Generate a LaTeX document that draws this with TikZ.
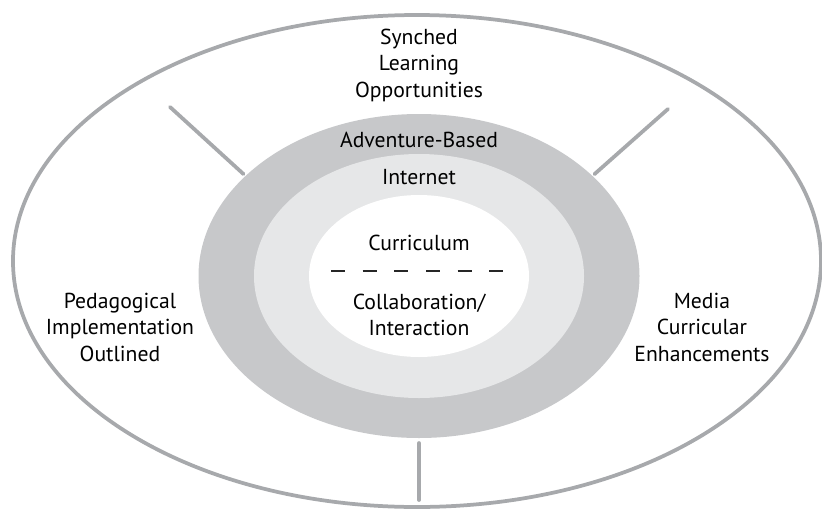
\documentclass[tikz,border=0pt]{standalone}
\usepackage{fontspec}
\setmainfont{PT Sans}
\usepackage{tikz}
\usetikzlibrary{shapes.geometric}
\usetikzlibrary{arrows}

\definecolor{rimgray}{RGB}{167,169,172}
\definecolor{darkring}{RGB}{199,200,202}
\definecolor{lightring}{RGB}{230,231,232}

\begin{document}
\begin{tikzpicture}[-,semithick,node distance=1cm]
\tikzstyle{every ring}=[ellipse,inner sep=0pt,draw=none]
\tikzstyle{lbl}=[align=center,inner sep=0pt,text=black]
\tikzstyle{spoke}=[draw=rimgray,line width=3.2pt,line cap=round]
\tikzset{font=\fontsize{18.5pt}{22.6pt}\selectfont}

        \useasboundingbox (0,0) rectangle (24.66,-15.27);

        \node[every ring,draw=rimgray,line width=3.2pt,minimum width=24.24cm,minimum height=14.76cm]   (out) at (12.51,-7.83) {};
        \node[every ring,fill=darkring,minimum width=13.23cm,minimum height=9.72cm]    (adv) at (12.57,-8.28) {};
        \node[every ring,fill=lightring,minimum width=9.9cm,minimum height=7.32cm]     (net) at (12.57,-8.28) {};
        \node[every ring,fill=white,minimum width=6.6cm,minimum height=4.86cm]         (cur) at (12.57,-8.28) {};

        \node[lbl]                (tcur) at (12.57,-7.29)        {Curriculum};
        \node[lbl,node distance=1.98cm]   (tnet) [above of=tcur]  {Internet};
        \node[lbl,node distance=1.11cm]   (tadv) [above of=tnet]  {Adventure-Based};
        \node[lbl]                (tcol) at (12.57,-9.45)        {Collaboration/\\Interaction};
        \node[lbl]                (syn)  at (12.57,-1.95)        {Synched\\Learning\\Opportunities};
        \node[lbl]                (ped)  at (3.6,-9.81)          {Pedagogical\\Implementation\\Outlined};
        \node[lbl]                (med)  at (21.06,-9.81)        {Media\\Curricular\\Enhancements};

        \coordinate (dl) at (9.93,-8.13);
        \coordinate (dr) at (15.09,-8.13);
        \coordinate (ul) at (5.10,-3.21);
        \coordinate (ur) at (20.04,-3.27);
        \coordinate (bt) at (12.57,-15.0);

        \draw[black!85,line width=1.1pt,dash pattern=on 0.42cm off 0.53cm] (dl) -- (dr);

        \path[spoke]
        (adv.150)   edge[shorten <=2pt]  (ul)
        (adv.30)    edge[shorten <=2pt]  (ur)
        (adv.south) edge[shorten <=4pt]  (bt)
        ; %end path

\end{tikzpicture}
\end{document}
